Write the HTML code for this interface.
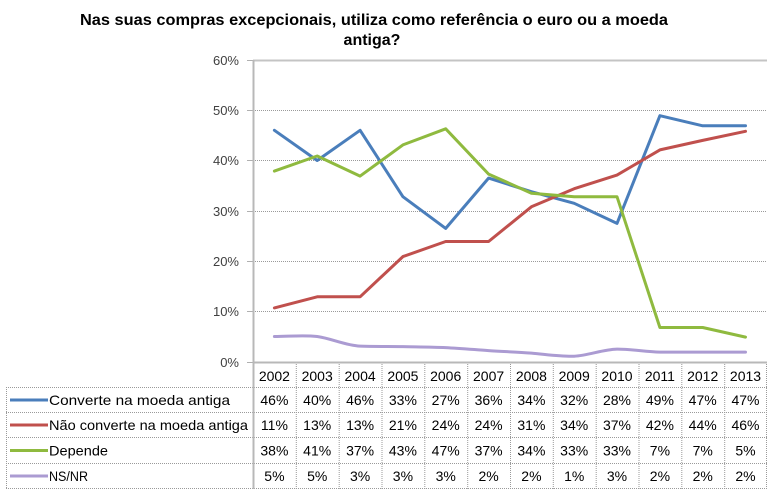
<!DOCTYPE html>
<html><head><meta charset="utf-8"><style>
html,body{margin:0;padding:0;background:#fff;}
svg{display:block;}
text{font-family:"Liberation Sans",Arial,sans-serif;}
</style></head><body>
<svg width="780" height="500" viewBox="0 0 780 500" xmlns="http://www.w3.org/2000/svg">
<rect width="780" height="500" fill="#fff"/>
<!-- title -->
<text x="80" y="25" font-size="16" font-weight="bold" fill="#000" textLength="588" lengthAdjust="spacingAndGlyphs">Nas suas compras excepcionais, utiliza como referência o euro ou a moeda</text>
<text x="372" y="45" font-size="16" font-weight="bold" fill="#000" text-anchor="middle">antiga?</text>

<!-- gridlines -->
<g stroke="#9a9a9a" stroke-width="1" stroke-dasharray="1,1">
<line x1="253" y1="311.5" x2="767" y2="311.5"/>
<line x1="253" y1="261.5" x2="767" y2="261.5"/>
<line x1="253" y1="211.5" x2="767" y2="211.5"/>
<line x1="253" y1="160.5" x2="767" y2="160.5"/>
<line x1="253" y1="110.5" x2="767" y2="110.5"/>
</g>
<line x1="253" y1="60.5" x2="767" y2="60.5" stroke="#c4c4c4" stroke-width="2"/>
<!-- y ticks -->
<g stroke="#b0b0b0" stroke-width="1">
<line x1="247" y1="60.5" x2="253" y2="60.5"/>
<line x1="247" y1="110.5" x2="253" y2="110.5"/>
<line x1="247" y1="160.5" x2="253" y2="160.5"/>
<line x1="247" y1="211.5" x2="253" y2="211.5"/>
<line x1="247" y1="261.5" x2="253" y2="261.5"/>
<line x1="247" y1="311.5" x2="253" y2="311.5"/>
<line x1="247" y1="362.5" x2="253" y2="362.5"/>
</g>
<!-- y labels -->
<g font-size="13" fill="#404040" text-anchor="end">
<text x="239" y="65">60%</text>
<text x="239" y="115">50%</text>
<text x="239" y="165">40%</text>
<text x="239" y="216">30%</text>
<text x="239" y="266">20%</text>
<text x="239" y="316">10%</text>
<text x="239" y="367">0%</text>
</g>

<!-- table lines -->
<g stroke="#9a9a9a" stroke-width="1" stroke-dasharray="1,1">
<line x1="6" y1="387.5" x2="767" y2="387.5"/>
<line x1="6" y1="412.5" x2="767" y2="412.5"/>
<line x1="6" y1="437.5" x2="767" y2="437.5"/>
<line x1="6" y1="463.5" x2="767" y2="463.5"/>
<line x1="6" y1="488.5" x2="767" y2="488.5"/>
<line x1="6.5" y1="387" x2="6.5" y2="489"/>
<line x1="296.3" y1="362" x2="296.3" y2="489"/>
<line x1="339.2" y1="362" x2="339.2" y2="489"/>
<line x1="382" y1="362" x2="382" y2="489"/>
<line x1="424.8" y1="362" x2="424.8" y2="489"/>
<line x1="467.7" y1="362" x2="467.7" y2="489"/>
<line x1="510.5" y1="362" x2="510.5" y2="489"/>
<line x1="553.3" y1="362" x2="553.3" y2="489"/>
<line x1="596.2" y1="362" x2="596.2" y2="489"/>
<line x1="639" y1="362" x2="639" y2="489"/>
<line x1="681.8" y1="362" x2="681.8" y2="489"/>
<line x1="724.7" y1="362" x2="724.7" y2="489"/>
<line x1="766.5" y1="362" x2="766.5" y2="489"/>
</g>
<line x1="253.5" y1="60" x2="253.5" y2="489" stroke="#b8b8b8" stroke-width="2"/>
<line x1="253" y1="362.5" x2="767" y2="362.5" stroke="#b8b8b8" stroke-width="2"/>

<!-- series -->
<g fill="none" stroke-width="3" stroke-linejoin="round" stroke-linecap="round">
<polyline stroke="#4a7ebb" points="274.4,130.3 317.2,160.5 360.1,130.3 402.9,196.7 445.7,228.4 488.6,178.1 531.4,191.7 574.2,203.3 617,223.4 659.9,115.7 702.7,125.8 745.5,125.8"/>
<polyline stroke="#c0504d" points="274.4,307.9 317.2,296.8 360.1,296.8 402.9,256.6 445.7,241.5 488.6,241.5 531.4,206.8 574.2,188.7 617,175.1 659.9,149.9 702.7,140.4 745.5,131.3"/>
<polyline stroke="#8fba3f" points="274.4,171.1 317.2,156 360.1,176.1 402.9,144.9 445.7,128.8 488.6,174.1 531.4,193.2 574.2,196.7 617,196.7 659.9,327.5 702.7,327.5 745.5,337.1"/>
<path stroke="#ab9bd2" d="M274.4,336.5 C288.7,336.5 302.9,335 317.2,336.5 C331.5,338.5 345.8,345.5 360.1,346.1 C374.4,346.6 388.6,346.4 402.9,346.6 C417.2,346.9 431.4,346.9 445.7,347.6 C460,348.4 474.3,349.6 488.6,350.6 C502.9,351.5 517.1,352.1 531.4,353.1 C545.7,354.3 559.9,356.6 574.2,356.2 C588.5,355.5 602.7,349.4 617,349.1 C631.3,349 645.6,351.8 659.9,352.1 C674.2,352.1 688.4,352.1 702.7,352.1 C717,352.1 731.2,352.1 745.5,352.1"/>
</g>

<!-- years -->
<g font-size="14" fill="#000" text-anchor="middle">
<text x="274.4" y="381">2002</text>
<text x="317.2" y="381">2003</text>
<text x="360.1" y="381">2004</text>
<text x="402.9" y="381">2005</text>
<text x="445.7" y="381">2006</text>
<text x="488.6" y="381">2007</text>
<text x="531.4" y="381">2008</text>
<text x="574.2" y="381">2009</text>
<text x="617" y="381">2010</text>
<text x="659.9" y="381">2011</text>
<text x="702.7" y="381">2012</text>
<text x="745.5" y="381">2013</text>
</g>

<!-- legend keys -->
<g stroke-width="3">
<line x1="10" y1="400" x2="48" y2="400" stroke="#4a7ebb"/>
<line x1="10" y1="425" x2="48" y2="425" stroke="#c0504d"/>
<line x1="10" y1="450.5" x2="48" y2="450.5" stroke="#8fba3f"/>
<line x1="10" y1="476" x2="48" y2="476" stroke="#ab9bd2"/>
</g>
<g font-size="14" fill="#000">
<text x="49" y="405" textLength="181" lengthAdjust="spacingAndGlyphs">Converte na moeda antiga</text>
<text x="49" y="430" textLength="199" lengthAdjust="spacingAndGlyphs">Não converte na moeda antiga</text>
<text x="49" y="455.5" textLength="59" lengthAdjust="spacingAndGlyphs">Depende</text>
<text x="49" y="481" textLength="39" lengthAdjust="spacingAndGlyphs">NS/NR</text>
</g>

<!-- values -->
<g font-size="14" fill="#000" text-anchor="middle">
<text x="274.4" y="405">46%</text><text x="317.2" y="405">40%</text><text x="360.1" y="405">46%</text><text x="402.9" y="405">33%</text><text x="445.7" y="405">27%</text><text x="488.6" y="405">36%</text><text x="531.4" y="405">34%</text><text x="574.2" y="405">32%</text><text x="617" y="405">28%</text><text x="659.9" y="405">49%</text><text x="702.7" y="405">47%</text><text x="745.5" y="405">47%</text>
<text x="274.4" y="430">11%</text><text x="317.2" y="430">13%</text><text x="360.1" y="430">13%</text><text x="402.9" y="430">21%</text><text x="445.7" y="430">24%</text><text x="488.6" y="430">24%</text><text x="531.4" y="430">31%</text><text x="574.2" y="430">34%</text><text x="617" y="430">37%</text><text x="659.9" y="430">42%</text><text x="702.7" y="430">44%</text><text x="745.5" y="430">46%</text>
<text x="274.4" y="455.5">38%</text><text x="317.2" y="455.5">41%</text><text x="360.1" y="455.5">37%</text><text x="402.9" y="455.5">43%</text><text x="445.7" y="455.5">47%</text><text x="488.6" y="455.5">37%</text><text x="531.4" y="455.5">34%</text><text x="574.2" y="455.5">33%</text><text x="617" y="455.5">33%</text><text x="659.9" y="455.5">7%</text><text x="702.7" y="455.5">7%</text><text x="745.5" y="455.5">5%</text>
<text x="274.4" y="481">5%</text><text x="317.2" y="481">5%</text><text x="360.1" y="481">3%</text><text x="402.9" y="481">3%</text><text x="445.7" y="481">3%</text><text x="488.6" y="481">2%</text><text x="531.4" y="481">2%</text><text x="574.2" y="481">1%</text><text x="617" y="481">3%</text><text x="659.9" y="481">2%</text><text x="702.7" y="481">2%</text><text x="745.5" y="481">2%</text>
</g>
</svg>
</body></html>
